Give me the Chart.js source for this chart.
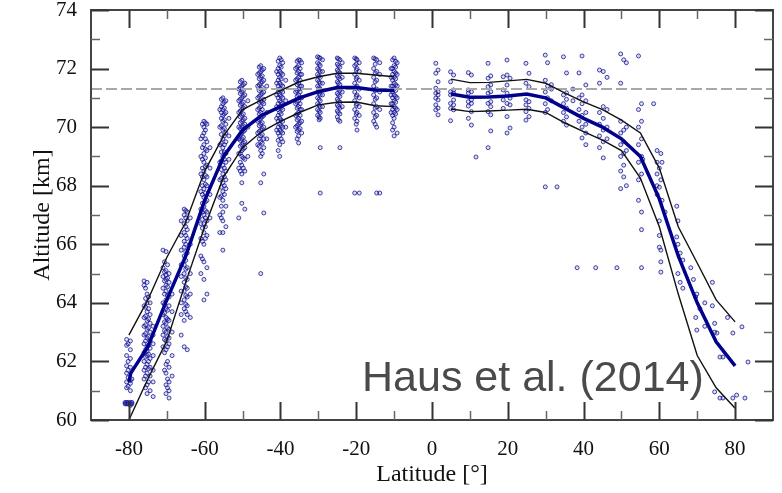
<!DOCTYPE html>
<html>
<head>
<meta charset="utf-8">
<script src="https://cdn.jsdelivr.net/npm/chart.js@4.4.0/dist/chart.umd.min.js"></script>
<style>
  html, body { margin: 0; padding: 0; background: #fff; }
  #grafico { display: block; }
</style>
</head>
<body>
<canvas id="grafico" width="782" height="493"></canvas>
<script>
// ticks
const xTicks = [-80, -60, -40, -20, 0, 20, 40, 60, 80];
const yTicks = [60, 62, 64, 66, 68, 70, 72, 74];
const refAltitude = 71.3;

// mean line and +/- sigma, southern hemisphere
const meanSouthLat = [-80, -79.5, -75, -70, -65, -60, -55, -50, -45, -40, -35, -30, -25, -20, -15, -10];
const meanSouth = [61.3, 61.6, 62.5, 64.1, 65.6, 67.5, 69.0, 69.9, 70.4, 70.7, 71.0, 71.21, 71.35, 71.35, 71.27, 71.25];
const latSouth = [-80, -75, -70, -65, -60, -55, -50, -45, -40, -35, -30, -25, -20, -15, -10];
const upperSouth = [62.9, 64.1, 65.55, 66.75, 68.5, 69.7, 70.6, 70.93, 71.25, 71.55, 71.72, 71.84, 71.84, 71.78, 71.72];
const lowerSouth = [60.0, 61.4, 62.7, 64.7, 66.6, 68.3, 69.3, 69.84, 70.2, 70.5, 70.76, 70.85, 70.86, 70.73, 70.7];

// northern hemisphere
const latNorth = [5, 10, 15, 20, 25, 30, 35, 40, 45, 50, 55, 60, 65, 70, 75, 80];
const meanNorth = [71.13, 71.02, 71.03, 71.06, 71.13, 71.0, 70.65, 70.3, 70.0, 69.6, 69.0, 67.55, 65.6, 64.0, 62.67, 61.85];
const upperNorth = [71.64, 71.52, 71.53, 71.58, 71.63, 71.5, 71.17, 70.86, 70.6, 70.24, 69.8, 68.6, 66.6, 65.36, 64.1, 63.35];
const lowerNorth = [70.62, 70.53, 70.55, 70.58, 70.61, 70.5, 70.15, 69.85, 69.56, 69.2, 68.26, 66.6, 64.3, 62.2, 61.1, 60.4];

// observed cloud top altitudes: [latitude, [altitudes]]
const obsSouth = [
  [-81.0, [60.6, 60.55]],
  [-80.6, [62.75, 62.55, 62.2, 61.85, 61.6, 61.3, 61.1, 60.6, 60.55]],
  [-80.2, [62.6, 62.0, 61.7, 61.45, 61.15, 60.6, 60.55]],
  [-79.6, [62.7, 62.4, 62.1, 61.8, 61.35, 61.25, 61.0, 60.6, 60.55, 60.5]],
  [-79.2, [61.4, 60.6, 60.55]],
  [-76.0, [64.75, 64.6, 63.9, 63.5, 63.2, 62.9, 62.6, 62.3, 62.0, 61.7, 61.4]],
  [-75.6, [64.5, 64.15, 63.85, 63.55, 63.25, 62.95, 62.7, 62.4, 62.15, 61.8, 61.5, 61.1]],
  [-75.2, [64.7, 64.3, 64.0, 63.7, 63.4, 63.1, 62.8, 62.5, 62.35, 62.2, 61.9, 61.6, 61.2, 60.9]],
  [-74.8, [64.2, 63.8, 63.45, 63.15, 62.85, 62.55, 62.25, 62.0, 61.75, 61.3]],
  [-74.4, [64.0, 63.6, 63.3, 63.0, 62.7, 62.45, 62.1, 61.8, 61.5, 61.0]],
  [-73.6, [63.2, 62.9, 62.6, 62.2, 61.7, 61.3, 60.8]],
  [-71.0, [65.8, 65.2, 64.9, 64.5, 64.0, 63.6, 63.2, 62.9, 62.5]],
  [-70.6, [65.4, 65.05, 64.75, 64.3, 63.95, 63.65, 63.35, 63.05, 62.75, 62.3, 61.7]],
  [-70.2, [65.75, 65.1, 64.95, 64.8, 64.6, 64.4, 64.1, 63.8, 63.5, 63.3, 63.0, 62.7, 62.4, 61.9, 61.6, 61.2, 60.9]],
  [-69.8, [65.3, 64.85, 64.55, 64.25, 63.75, 63.45, 63.15, 62.85, 62.5, 62.0, 61.4, 61.1]],
  [-69.4, [65.0, 64.7, 64.2, 63.9, 63.4, 63.1, 62.8, 62.6, 61.8, 61.3, 61.0, 60.75]],
  [-68.6, [64.3, 63.7, 63.0, 62.2, 61.5]],
  [-66.2, [66.8, 66.3, 65.8, 65.3, 64.9, 64.4, 64.0, 63.6, 62.9]],
  [-65.4, [67.2, 67.0, 66.7, 66.4, 66.1, 65.9, 65.6, 65.3, 65.0, 64.7, 64.4, 64.1, 63.8, 63.4, 62.5]],
  [-65.0, [67.15, 66.9, 66.6, 66.3, 66.0, 65.75, 65.45, 65.15, 64.85, 64.55, 64.25, 63.95, 63.7]],
  [-64.6, [67.1, 66.8, 66.5, 66.2, 65.7, 65.2, 64.8, 64.5, 64.2, 63.9, 63.6, 62.4]],
  [-63.8, [66.9, 66.0, 65.0, 64.3, 63.5]],
  [-61.0, [69.6, 69.0, 68.4, 67.8, 67.2, 66.7, 66.2, 65.6, 65.0]],
  [-60.6, [70.1, 69.7, 69.3, 68.9, 68.6, 68.3, 68.0, 67.7, 67.4, 67.1, 66.85, 66.55, 66.1, 65.5]],
  [-60.2, [70.2, 70.0, 69.8, 69.4, 69.1, 68.8, 68.5, 68.2, 67.9, 67.6, 67.3, 67.0, 66.7, 66.4, 66.0, 65.4, 64.8, 64.1]],
  [-59.8, [70.15, 69.9, 69.6, 69.25, 68.95, 68.65, 68.35, 68.05, 67.75, 67.45, 67.15, 66.9, 66.6, 66.2]],
  [-59.4, [70.1, 69.5, 69.2, 68.7, 68.3, 68.0, 67.5, 67.1, 66.8, 66.3, 65.2, 64.3]],
  [-58.6, [69.3, 68.6, 67.7, 66.9]],
  [-56.0, [70.6, 70.0, 69.4, 68.8, 68.2, 67.6, 67.0, 66.4]],
  [-55.6, [70.95, 70.7, 70.5, 70.3, 70.05, 69.75, 69.45, 69.15, 68.85, 68.55, 68.25, 67.95, 67.65, 67.3, 66.9]],
  [-55.2, [71.0, 70.8, 70.6, 70.4, 70.2, 69.9, 69.6, 69.3, 69.0, 68.7, 68.4, 68.1, 67.8, 67.5, 67.1, 66.8, 66.4, 65.8]],
  [-54.8, [70.85, 70.65, 70.45, 70.25, 69.95, 69.7, 69.4, 69.15, 68.9, 68.6, 68.3, 68.0, 67.7]],
  [-54.4, [70.9, 70.5, 70.1, 69.8, 69.5, 69.1, 68.8, 68.5, 68.2, 67.9, 67.3, 66.6]],
  [-53.6, [70.3, 69.7, 68.9]],
  [-51.0, [71.3, 70.9, 70.5, 70.0, 69.6, 69.1, 68.6, 66.9]],
  [-50.6, [71.55, 71.35, 71.15, 70.95, 70.75, 70.55, 70.35, 70.15, 69.95, 69.75, 69.55, 69.35, 69.1, 68.8, 68.5]],
  [-50.2, [71.6, 71.4, 71.2, 71.0, 70.8, 70.6, 70.4, 70.2, 70.0, 69.8, 69.6, 69.4, 69.2, 69.0, 68.7, 68.4, 68.1, 67.4]],
  [-49.8, [71.45, 71.25, 71.05, 70.85, 70.65, 70.45, 70.25, 70.05, 69.85, 69.65, 69.45, 69.25, 68.95, 68.6]],
  [-49.4, [71.5, 71.1, 70.7, 70.3, 70.1, 69.9, 69.5, 69.3, 68.9, 68.5, 67.2]],
  [-48.6, [70.9, 70.0, 69.0]],
  [-46.0, [71.8, 71.4, 71.0, 70.6, 70.2, 69.8, 69.4]],
  [-45.6, [72.05, 71.85, 71.65, 71.45, 71.25, 71.05, 70.85, 70.65, 70.45, 70.25, 70.05, 69.85, 69.6, 69.35]],
  [-45.2, [72.1, 71.9, 71.7, 71.5, 71.3, 71.1, 70.9, 70.7, 70.5, 70.3, 70.1, 69.9, 69.7, 69.5, 69.2, 69.0, 68.1, 65.0]],
  [-44.8, [71.95, 71.75, 71.55, 71.35, 71.15, 70.85, 70.6, 70.35, 70.15, 69.95, 69.75, 69.45, 69.1]],
  [-44.4, [72.0, 71.6, 71.2, 70.95, 70.8, 70.4, 70.0, 69.6, 69.3, 68.4, 67.07]],
  [-43.6, [71.4, 70.5, 69.6]],
  [-41.0, [71.9, 71.5, 71.1, 70.7, 70.3, 69.9]],
  [-40.6, [72.25, 72.0, 71.8, 71.6, 71.4, 71.2, 71.0, 70.8, 70.6, 70.4, 70.2, 70.0, 69.8, 69.55, 69.2]],
  [-40.2, [72.36, 72.1, 71.9, 71.7, 71.5, 71.3, 71.1, 70.9, 70.7, 70.5, 70.3, 70.1, 69.9, 69.7, 69.4, 69.0]],
  [-39.8, [72.3, 72.05, 71.85, 71.65, 71.45, 71.25, 71.05, 70.85, 70.65, 70.45, 70.25, 70.05, 69.85, 69.6]],
  [-39.4, [72.2, 71.8, 71.4, 71.2, 71.0, 70.8, 70.6, 70.2, 70.0, 69.8, 69.5]],
  [-38.6, [71.6, 70.9, 70.0]],
  [-36.0, [72.0, 71.6, 71.2, 70.8, 70.4, 70.0]],
  [-35.6, [72.25, 72.05, 71.85, 71.65, 71.45, 71.25, 71.05, 70.85, 70.65, 70.45, 70.25, 70.05, 69.85, 69.6]],
  [-35.2, [72.3, 72.1, 71.9, 71.7, 71.5, 71.3, 71.1, 70.9, 70.7, 70.5, 70.3, 70.1, 69.9, 69.7, 69.46]],
  [-34.8, [72.28, 72.0, 71.8, 71.6, 71.4, 71.2, 71.0, 70.8, 70.6, 70.4, 70.15, 69.95]],
  [-34.4, [72.2, 71.8, 71.4, 71.0, 70.6, 70.2, 69.8]],
  [-30.2, [72.4, 72.2, 72.0, 71.8, 71.6, 71.4, 71.2, 71.0, 70.8, 70.6, 70.4]],
  [-29.8, [72.38, 72.15, 71.95, 71.75, 71.55, 71.35, 71.15, 70.95, 70.75, 70.55, 70.35, 70.25]],
  [-29.5, [72.35, 72.1, 71.9, 71.7, 71.5, 71.3, 71.1, 70.9, 70.7, 70.5, 70.3, 69.3, 67.75]],
  [-28.9, [72.3, 71.9, 71.5, 71.1, 70.7]],
  [-25.0, [72.36, 72.15, 71.95, 71.75, 71.55, 71.35, 71.15, 70.95, 70.75, 70.55, 70.35]],
  [-24.7, [72.33, 72.1, 71.9, 71.7, 71.5, 71.3, 71.1, 70.9, 70.7, 70.5, 70.25]],
  [-24.3, [72.3, 72.05, 71.85, 71.65, 71.45, 71.25, 71.05, 70.85, 70.65, 70.45, 70.2, 69.3]],
  [-23.7, [72.2, 71.7, 71.2, 70.7]],
  [-20.4, [72.36, 72.1, 71.8, 71.5, 71.2, 70.9, 70.6, 70.3, 67.75]],
  [-20.0, [72.33, 72.15, 71.95, 71.65, 71.35, 71.05, 70.75, 70.45, 70.1]],
  [-19.8, [72.3, 72.0, 71.7, 71.4, 71.1, 70.8, 70.5, 70.2, 69.9]],
  [-19.2, [72.2, 71.9, 71.6, 71.3, 71.0, 70.7, 70.4, 67.75]],
  [-15.4, [72.36, 72.0, 71.7, 71.4, 71.1, 70.8, 70.5, 70.2]],
  [-15.0, [72.33, 72.15, 71.85, 71.55, 71.25, 70.95, 70.65, 70.35, 70.1]],
  [-14.6, [72.3, 71.9, 71.6, 71.3, 71.0, 70.7, 70.4, 70.0, 67.75]],
  [-13.8, [72.2, 71.8, 71.2, 70.6, 67.75]],
  [-10.8, [72.0, 71.7, 71.4, 71.1, 70.8, 70.5]],
  [-10.4, [72.3, 72.0, 71.8, 71.6, 71.4, 71.2, 71.0, 70.8, 70.6, 70.4, 70.15, 69.9]],
  [-10.0, [72.36, 72.1, 71.9, 71.7, 71.5, 71.3, 71.1, 70.9, 70.7, 70.5, 70.3, 70.0, 69.7]],
  [-9.6, [72.25, 72.05, 71.85, 71.65, 71.45, 71.25, 71.05, 70.85, 70.65, 70.45]],
  [-9.2, [72.2, 71.8, 71.4, 71.0, 70.6, 69.8]]
];

const obsNorth = [
  [1.0, [72.18, 71.84, 71.33, 71.16, 70.99, 70.76, 70.59]],
  [1.6, [71.95, 71.55, 71.21, 71.1, 70.93, 70.65, 70.42]],
  [4.9, [71.89, 71.55, 71.21, 71.1, 70.81, 70.64, 70.22]],
  [5.7, [71.78, 71.27, 71.16, 70.93, 70.76, 70.59]],
  [9.6, [71.86, 71.27, 71.16, 70.87, 70.72, 70.3]],
  [10.4, [71.78, 71.21, 70.93, 70.81, 70.53, 70.07]],
  [11.6, [68.98]],
  [14.8, [72.18, 71.67, 71.38, 71.16, 70.81, 70.53, 69.3]],
  [15.5, [71.75, 71.44, 71.21, 70.87, 70.7, 70.42, 69.87]],
  [18.8, [71.72, 71.27, 70.93, 70.64]],
  [19.8, [72.29, 71.78, 71.44, 71.16, 70.81, 70.36, 69.8]],
  [20.6, [71.67, 70.99, 70.76, 69.97]],
  [24.8, [72.18, 71.5, 70.93, 70.76, 70.53, 70.24]],
  [25.6, [71.84, 71.38, 70.87, 70.64, 70.36]],
  [29.9, [72.46, 71.6, 71.2, 70.8, 70.5, 67.96]],
  [30.5, [72.2, 71.4, 71.0, 70.6]],
  [31.5, [71.45, 71.3, 70.9]],
  [33.0, [67.96]],
  [34.7, [72.4, 71.1, 70.8, 70.5, 70.2]],
  [35.5, [71.85, 71.17, 70.95, 70.65, 70.35, 70.07]],
  [37.2, [71.3, 70.9]],
  [38.3, [65.2]],
  [38.8, [71.85, 71.0, 70.6, 70.2]],
  [39.6, [72.43, 71.1, 70.8, 70.4, 70.0, 69.63]],
  [40.6, [71.44, 70.9, 70.5, 70.1, 69.8, 69.4]],
  [43.2, [65.2]],
  [44.2, [71.95, 71.5, 70.5, 70.1, 69.7, 69.3]],
  [45.2, [71.9, 70.7, 70.3, 69.9, 69.5, 68.95]],
  [46.2, [71.7, 70.6, 70.0, 69.6]],
  [48.8, [65.2]],
  [49.8, [72.5, 71.5, 70.2, 69.8, 69.4, 69.0, 68.5, 67.9]],
  [50.6, [72.3, 69.9, 69.5, 69.1, 68.7, 68.3]],
  [51.3, [72.2, 70.0, 69.2, 68.0]],
  [54.5, [72.43, 70.6, 70.0, 69.4, 68.8, 68.2, 67.5]],
  [55.3, [70.8, 70.2, 69.6, 69.0, 68.4, 67.1, 66.5, 65.2]],
  [55.6, [68.9]],
  [58.5, [70.8]],
  [59.4, [69.2, 68.8, 68.4, 68.0, 67.7]],
  [60.0, [68.6, 67.95, 66.8, 66.3, 65.9]],
  [60.4, [69.1, 68.2, 65.8, 65.4, 65.05]],
  [60.7, [68.8, 67.5]],
  [61.5, [67.1]],
  [64.6, [67.3, 66.25]],
  [64.9, [66.8, 66.0, 65.0]],
  [65.5, [65.7, 64.7]],
  [66.2, [65.46, 64.5]],
  [68.3, [65.2]],
  [69.0, [64.8]],
  [69.6, [64.2, 63.5]],
  [69.9, [64.3, 63.07]],
  [70.7, [63.8]],
  [72.0, [64.0, 63.2]],
  [74.0, [64.7, 63.9]],
  [74.6, [63.3, 63.0, 60.96]],
  [75.2, [62.97]],
  [76.0, [62.15, 60.75]],
  [76.8, [62.15, 60.75]],
  [78.0, [63.5]],
  [79.4, [62.97, 60.75]],
  [80.4, [60.85]],
  [81.8, [63.18]],
  [82.6, [60.75]],
  [83.4, [61.98]]
];

// pasar [lat, [alts]] a puntos {x, y}
function toPoints(cols) {
  const pts = [];
  cols.forEach(([lat, alts]) => {
    alts.forEach((alt) => pts.push({ x: lat, y: alt }));
  });
  return pts;
}

function zipLine(lats, vals) {
  return lats.map((lat, i) => ({ x: lat, y: vals[i] }));
}

const serif = '"Liberation Serif", "Times New Roman", serif';

function lineSet(data, color, width, order) {
  return {
    data: data,
    showLine: true,
    borderColor: color,
    borderWidth: width,
    pointRadius: 0,
    tension: 0,
    fill: false,
    order: order
  };
}

// marco, ticks interiores y texto de referencia
const framePlugin = {
  id: 'frame',
  afterDatasetsDraw(chart) {
    const { ctx, chartArea: a, scales } = chart;
    const xs = scales.x, ys = scales.y;
    ctx.save();
    ctx.strokeStyle = '#444';
    ctx.lineWidth = 2;
    ctx.strokeRect(a.left, a.top, a.right - a.left, a.bottom - a.top);

    const tick = (x1, y1, x2, y2, w, c) => {
      ctx.beginPath();
      ctx.lineWidth = w;
      ctx.strokeStyle = c;
      ctx.moveTo(x1, y1);
      ctx.lineTo(x2, y2);
      ctx.stroke();
    };
    for (let v = -70; v <= 70; v += 20) {
      const px = Math.round(xs.getPixelForValue(v)) + 0.5;
      tick(px, a.bottom, px, a.bottom - 9, 1.5, '#666');
      tick(px, a.top, px, a.top + 9, 1.5, '#666');
    }
    xTicks.forEach((v) => {
      const px = Math.round(xs.getPixelForValue(v)) + 0.5;
      tick(px, a.bottom, px, a.bottom - 18, 2, '#333');
      tick(px, a.top, px, a.top + 18, 2, '#333');
    });
    for (let v = 61; v <= 73; v += 2) {
      const py = Math.round(ys.getPixelForValue(v)) + 0.5;
      tick(a.left, py, a.left + 9, py, 1.5, '#666');
      tick(a.right, py, a.right - 9, py, 1.5, '#666');
    }
    yTicks.forEach((v) => {
      const py = Math.round(ys.getPixelForValue(v)) + 0.5;
      tick(a.left, py, a.left + 18, py, 2, '#333');
      tick(a.right, py, a.right - 18, py, 2, '#333');
    });

    ctx.font = '43px "Liberation Sans", Arial, sans-serif';
    ctx.fillStyle = '#4a4a4a';
    ctx.textAlign = 'left';
    ctx.textBaseline = 'alphabetic';
    ctx.fillText('Haus et al. (2014)', 362, 391);
    ctx.restore();
  }
};

const ctx = document.getElementById('grafico').getContext('2d');
new Chart(ctx, {
  type: 'scatter',
  data: {
    datasets: [
      lineSet(zipLine(meanSouthLat, meanSouth), '#00008c', 3.5, 0),
      lineSet(zipLine(latNorth, meanNorth), '#00008c', 3.5, 0),
      lineSet(zipLine(latSouth, upperSouth), '#111', 1.4, 1),
      lineSet(zipLine(latSouth, lowerSouth), '#111', 1.4, 1),
      lineSet(zipLine(latNorth, upperNorth), '#111', 1.4, 1),
      lineSet(zipLine(latNorth, lowerNorth), '#111', 1.4, 1),
      {
        data: [{ x: -90, y: refAltitude }, { x: 90, y: refAltitude }],
        showLine: true,
        borderColor: '#a8a8a8',
        borderWidth: 2,
        borderDash: [11, 4],
        pointRadius: 0,
        order: 2
      },
      {
        data: toPoints(obsSouth).concat(toPoints(obsNorth)),
        pointRadius: 2,
        pointBorderWidth: 1,
        borderColor: 'rgba(10,10,140,0.75)',
        backgroundColor: 'rgba(90,90,200,0.2)',
        order: 3
      }
    ]
  },
  options: {
    responsive: false,
    animation: false,
    devicePixelRatio: 1,
    layout: { padding: { top: 10, right: 9, left: 0, bottom: 0 } },
    plugins: { legend: { display: false }, tooltip: { enabled: false } },
    scales: {
      x: {
        type: 'linear',
        min: -90,
        max: 90,
        afterBuildTicks: (s) => { s.ticks = xTicks.map((v) => ({ value: v })); },
        afterFit: (s) => { s.height = 73; s.paddingLeft = 0; s.paddingRight = 0; },
        grid: { display: false },
        border: { display: false },
        ticks: { color: '#111', padding: 9, maxRotation: 0, font: { family: serif, size: 21 } },
        title: {
          display: true,
          text: 'Latitude [°]',
          color: '#111',
          padding: { top: 0, bottom: 4 },
          font: { family: serif, size: 24 }
        }
      },
      y: {
        type: 'linear',
        min: 60,
        max: 74,
        afterBuildTicks: (s) => { s.ticks = yTicks.map((v) => ({ value: v })); },
        afterFit: (s) => { s.width = 91; s.paddingTop = 0; s.paddingBottom = 0; },
        grid: { display: false },
        border: { display: false },
        ticks: { color: '#111', padding: 6, font: { family: serif, size: 21 } },
        title: {
          display: true,
          text: 'Altitude [km]',
          color: '#111',
          padding: { top: 28, bottom: 0 },
          font: { family: serif, size: 24 }
        }
      }
    }
  },
  plugins: [framePlugin]
});
</script>
</body>
</html>
